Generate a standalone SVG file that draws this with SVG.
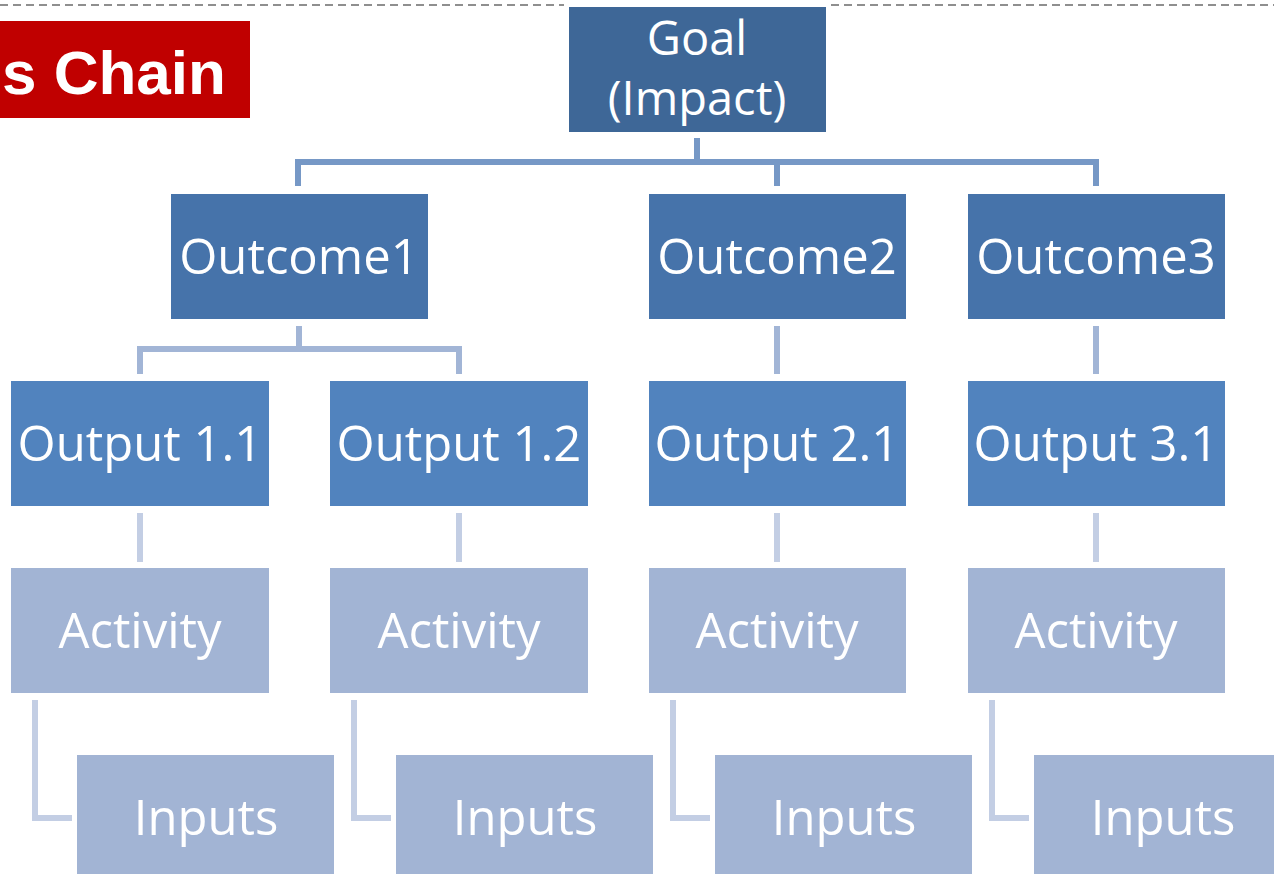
<svg xmlns="http://www.w3.org/2000/svg" width="1274" height="874" viewBox="0 0 1274 874">
<style>
.t{font-family:"Open Sans","Noto Sans",sans-serif;font-size:49px;fill:#fff;text-anchor:middle}
.g{font-size:47px}
.goal{fill:#3E6797}
.oc{fill:#4673AA}
.op{fill:#5183BE}
.lt{fill:#A2B4D4}
.c1{fill:none;stroke:#7698C6;stroke-width:6}
.c2{fill:none;stroke:#A2B5D6;stroke-width:6}
.c3{fill:none;stroke:#C3CEE4;stroke-width:6}
</style>
<rect width="1274" height="874" fill="#fff"/>
<g id="frame">
<line x1="0" y1="5" x2="564" y2="5" stroke="#8f8f8f" stroke-width="2" stroke-dasharray="8,5"/>
<line x1="831" y1="5" x2="1274" y2="5" stroke="#8f8f8f" stroke-width="2" stroke-dasharray="8,5"/>
</g>
<g id="title">
<rect x="0" y="21" width="250" height="97" fill="#C00000"/>
<text x="2" y="94" font-family="'Liberation Sans',Arial,sans-serif" font-weight="bold" font-size="62" fill="#fff">s Chain</text>
</g>
<g id="connectors">
<path class="c1" d="M697 138V162M298 186V162H1096V186M777 162V186"/>
<path class="c2" d="M299 326V349M140 374V349H459V374"/>
<path class="c2" d="M777 326V374M1096 326V374"/>
<path class="c3" d="M140 513V562M459 513V562M777 513V562M1096 513V562"/>
<path class="c3" d="M35 700V818H72M354 700V818H391M673 700V818H710M992 700V818H1029"/>
</g>
<g id="goal"><rect class="goal" x="569" y="7" width="257" height="125"/><text class="t g" x="697" y="55">Goal</text><text class="t g" x="697" y="115">(Impact)</text></g>
<g id="outcome1"><rect class="oc" x="171" y="194" width="257" height="125"/><text class="t" x="299" y="274">Outcome1</text></g>
<g id="outcome2"><rect class="oc" x="649" y="194" width="257" height="125"/><text class="t" x="777" y="274">Outcome2</text></g>
<g id="outcome3"><rect class="oc" x="968" y="194" width="257" height="125"/><text class="t" x="1096" y="274">Outcome3</text></g>
<g id="output11"><rect class="op" x="11" y="381" width="258" height="125"/><text class="t" x="140" y="461">Output 1.1</text></g>
<g id="output12"><rect class="op" x="330" y="381" width="258" height="125"/><text class="t" x="459" y="461">Output 1.2</text></g>
<g id="output21"><rect class="op" x="649" y="381" width="257" height="125"/><text class="t" x="777" y="461">Output 2.1</text></g>
<g id="output31"><rect class="op" x="968" y="381" width="257" height="125"/><text class="t" x="1096" y="461">Output 3.1</text></g>
<g id="activity1"><rect class="lt" x="11" y="568" width="258" height="125"/><text class="t" x="140" y="648">Activity</text></g>
<g id="activity2"><rect class="lt" x="330" y="568" width="258" height="125"/><text class="t" x="459" y="648">Activity</text></g>
<g id="activity3"><rect class="lt" x="649" y="568" width="257" height="125"/><text class="t" x="777" y="648">Activity</text></g>
<g id="activity4"><rect class="lt" x="968" y="568" width="257" height="125"/><text class="t" x="1096" y="648">Activity</text></g>
<g id="inputs1"><rect class="lt" x="77" y="755" width="257" height="125"/><text class="t" x="206" y="835">Inputs</text></g>
<g id="inputs2"><rect class="lt" x="396" y="755" width="257" height="125"/><text class="t" x="525" y="835">Inputs</text></g>
<g id="inputs3"><rect class="lt" x="715" y="755" width="257" height="125"/><text class="t" x="844" y="835">Inputs</text></g>
<g id="inputs4"><rect class="lt" x="1034" y="755" width="257" height="125"/><text class="t" x="1163" y="835">Inputs</text></g>
</svg>
